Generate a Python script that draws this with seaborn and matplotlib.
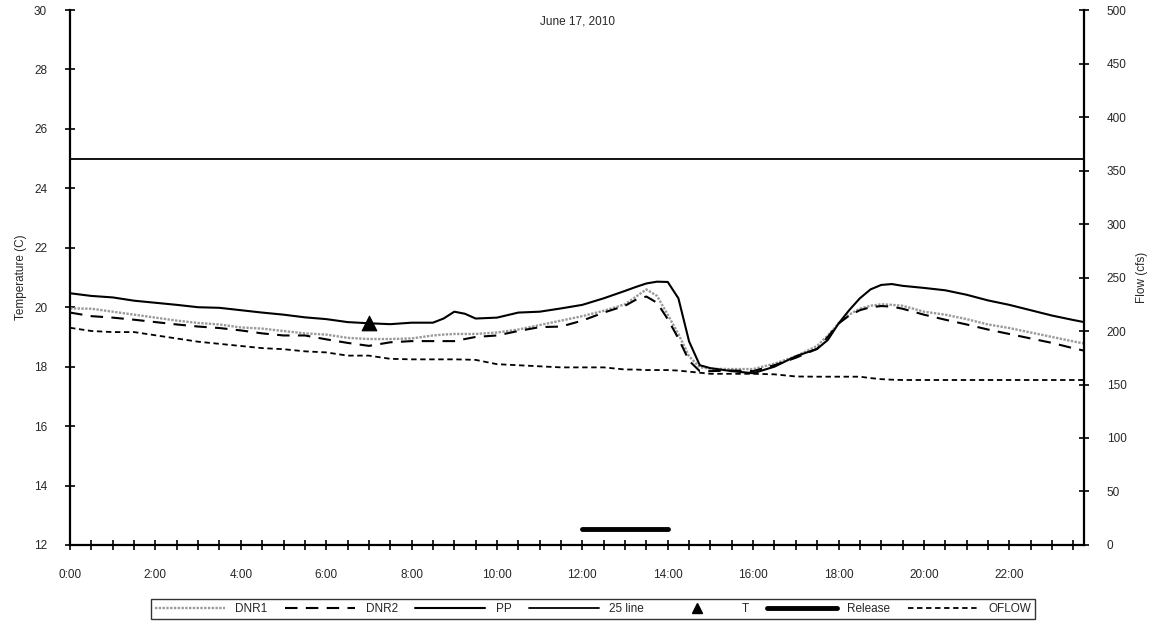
import numpy as np
import pandas as pd
import matplotlib
matplotlib.use("Agg")
import matplotlib.pyplot as plt
from matplotlib.lines import Line2D
import seaborn as sns

# Readings for June 17, 2010 (hours after midnight); quarter-hour detail
# where the temperatures change quickly
hours = [0.0, 0.5, 1.0, 1.5, 2.0, 2.5, 3.0, 3.5, 4.0, 4.5, 5.0, 5.5,
         6.0, 6.5, 7.0, 7.5, 8.0, 8.5, 8.75, 9.0, 9.25, 9.5, 10.0, 10.5, 11.0, 11.5,
         12.0, 12.5, 13.0, 13.25, 13.5, 13.75, 14.0, 14.25, 14.5, 14.75, 15.0, 15.5,
         16.0, 16.5, 17.0, 17.5, 17.75, 18.0, 18.25, 18.5, 18.75, 19.0, 19.25, 19.5,
         20.0, 20.5, 21.0, 21.5, 22.0, 22.5, 23.0, 23.5, 23.75]

# Water temperature (C)
dnr1 = [19.96, 19.95, 19.85, 19.75, 19.65, 19.55, 19.47, 19.42, 19.32, 19.28, 19.20, 19.12,
        19.08, 18.97, 18.93, 18.93, 18.95, 19.05, 19.08, 19.10, 19.10, 19.10, 19.15, 19.25, 19.40, 19.55,
        19.70, 19.88, 20.10, 20.35, 20.60, 20.38, 19.75, 19.10, 18.35, 17.98, 17.93, 17.92,
        17.92, 18.10, 18.35, 18.70, 19.05, 19.45, 19.75, 19.95, 20.05, 20.10, 20.08, 20.05,
        19.85, 19.75, 19.60, 19.42, 19.30, 19.15, 19.00, 18.85, 18.78]
dnr2 = [19.82, 19.70, 19.65, 19.58, 19.50, 19.42, 19.35, 19.30, 19.22, 19.12, 19.05, 19.05,
        18.92, 18.80, 18.70, 18.82, 18.86, 18.86, 18.86, 18.86, 18.93, 19.00, 19.05, 19.20, 19.33, 19.35,
        19.55, 19.82, 20.05, 20.25, 20.36, 20.15, 19.60, 18.95, 18.20, 17.85, 17.85, 17.87,
        17.85, 18.05, 18.30, 18.60, 19.00, 19.45, 19.72, 19.90, 20.00, 20.04, 20.02, 19.95,
        19.75, 19.58, 19.42, 19.25, 19.10, 18.95, 18.80, 18.62, 18.54]
pp = [20.47, 20.38, 20.33, 20.22, 20.15, 20.08, 20.00, 19.98, 19.90, 19.82, 19.75, 19.66,
      19.60, 19.50, 19.46, 19.43, 19.48, 19.48, 19.62, 19.85, 19.78, 19.62, 19.65, 19.82, 19.85, 19.96,
      20.08, 20.30, 20.55, 20.68, 20.80, 20.86, 20.85, 20.30, 18.85, 18.05, 17.95, 17.85,
      17.78, 18.00, 18.35, 18.60, 18.90, 19.45, 19.90, 20.30, 20.60, 20.75, 20.78, 20.72,
      20.65, 20.57, 20.42, 20.23, 20.08, 19.90, 19.72, 19.57, 19.50]

# Outflow (cfs)
oflow = [203, 200, 199, 199, 196, 193, 190, 188, 186, 184, 183, 181,
         180, 177, 177, 174, 173.5, 173.5, 173.5, 173.5, 173.3, 173, 169, 168, 167, 166,
         166, 166, 164, 164, 163.5, 163.5, 163.5, 163, 162, 161, 160, 160,
         160, 159.5, 157.5, 157.3, 157.3, 157.3, 157.3, 157.3, 156, 155, 154.5, 154.2,
         154.2, 154.2, 154.2, 154.2, 154.2, 154.2, 154.2, 154.2, 154.2]

# Reference threshold, spot reading and release window
line25_hours = [0.0, 23.75]
line25_temp = [25, 25]
t_hour = [7.0]
t_temp = [19.47]
release_hours = [12.0, 14.0]
release_flow = [15, 15]

x_tick_labels = ["0:00", "2:00", "4:00", "6:00", "8:00", "10:00",
                 "12:00", "14:00", "16:00", "18:00", "20:00", "22:00"]

sns.set_style("white")
plt.rcParams["font.family"] = ["Liberation Sans", "DejaVu Sans"]
plt.rcParams["font.size"] = 8.5

fig = plt.figure(figsize=(11.56, 6.27), dpi=100)
ax = fig.add_axes([0.0606, 0.1308, 0.8771, 0.8532])
ax2 = ax.twinx()

temps = pd.DataFrame({"hour": hours, "DNR1": dnr1, "DNR2": dnr2, "PP": pp})
flows = pd.DataFrame({"hour": hours, "OFLOW": oflow})

sns.lineplot(data=temps, x="hour", y="DNR1", ax=ax, color="#9a9a9a",
             linewidth=1.7, linestyle=(0, (1, 0.6)))
sns.lineplot(data=temps, x="hour", y="DNR2", ax=ax, color="black",
             linewidth=1.5, linestyle=(0, (6, 4)))
sns.lineplot(data=temps, x="hour", y="PP", ax=ax, color="black", linewidth=1.5)
sns.lineplot(x=line25_hours, y=line25_temp, ax=ax, color="black", linewidth=1.3)
sns.scatterplot(x=t_hour, y=t_temp, ax=ax, marker="^", s=110, color="black",
                edgecolor="black", zorder=5)

sns.lineplot(data=flows, x="hour", y="OFLOW", ax=ax2, color="black",
             linewidth=1.3, linestyle=(0, (3, 2)))
sns.lineplot(x=release_hours, y=release_flow, ax=ax2, color="black",
             linewidth=3.5, solid_capstyle="round")

# Axes ranges and ticks
ax.set_xlim(0, 23.75)
ax.set_ylim(12, 30)
ax2.set_ylim(0, 500)
ax.set_yticks(np.arange(12, 31, 2))
ax2.set_yticks(np.arange(0, 501, 50))
xt = np.arange(0, 23.75, 0.5)
ax.set_xticks(xt)
labels = []
for v in xt:
    if v % 2 == 0:
        labels.append(x_tick_labels[int(v // 2)])
    else:
        labels.append("")
ax.set_xticklabels(labels)

ax.tick_params(axis="both", direction="inout", length=7, width=1.2,
               color="black", labelsize=8.5, left=True, bottom=True)
ax.tick_params(axis="x", pad=14)
ax.tick_params(axis="y", pad=13)
ax2.tick_params(axis="y", direction="inout", length=7, width=1.2,
                color="black", labelsize=8.5, right=True, pad=13)

for a in (ax, ax2):
    a.spines["top"].set_visible(False)
    a.grid(False)
ax.spines["left"].set_linewidth(1.6)
ax.spines["bottom"].set_linewidth(1.6)
ax.spines["right"].set_visible(False)
ax2.spines["left"].set_visible(False)
ax2.spines["bottom"].set_visible(False)
ax2.spines["right"].set_linewidth(1.6)
for a in (ax, ax2):
    for s in a.spines.values():
        s.set_color("black")

ax.set_xlabel("")
ax.set_ylabel("Temperature (C)", fontsize=8.5, labelpad=5)
ax2.set_ylabel("Flow (cfs)", fontsize=8.5, labelpad=7)
ax.text(0.5, 0.99, "June 17, 2010", transform=ax.transAxes, ha="center",
        va="top", fontsize=8.5)

handles = [
    Line2D([], [], color="#9a9a9a", linewidth=1.7, linestyle=(0, (1, 0.6))),
    Line2D([], [], color="black", linewidth=1.5, linestyle=(0, (6, 4))),
    Line2D([], [], color="black", linewidth=1.5),
    Line2D([], [], color="black", linewidth=1.3),
    Line2D([], [], color="black", linestyle="none", marker="^", markersize=7),
    Line2D([], [], color="black", linewidth=3.5),
    Line2D([], [], color="black", linewidth=1.3, linestyle=(0, (3, 2))),
]
names = ["DNR1", "DNR2", "PP", "25 line", "T", "Release", "OFLOW"]
leg = fig.legend(handles, names, loc="center", bbox_to_anchor=(0.513, 0.029),
                 ncol=7, fontsize=8.5, handlelength=5.9, handletextpad=0.9,
                 columnspacing=1.5, frameon=True, fancybox=False,
                 borderpad=0.35, edgecolor="black")
leg.get_frame().set_linewidth(1.0)

fig.savefig("out.png", dpi=100, facecolor="white")
